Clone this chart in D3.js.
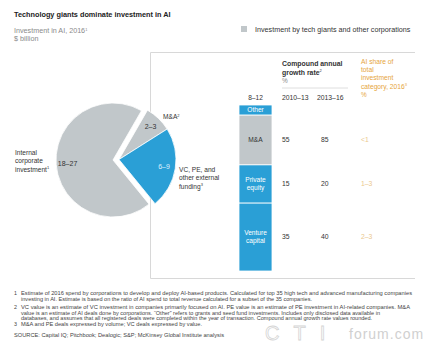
<!DOCTYPE html>
<html><head><meta charset="utf-8">
<script src="https://cdn.jsdelivr.net/npm/d3@7"></script>
<style>
body{margin:0;background:#fff;}
text{font-family:"Liberation Sans",Arial,sans-serif;}
</style></head>
<body>
<svg id="c" width="439" height="357"></svg>
<script>
// ---- data ----
const pieCategories = ["M&A", "VC, PE, and other external funding", "Internal corporate investment"];
const pieValues = [2.5, 7.5, 22.5];          // $ billion (mid of ranges)
const pieRangeLabels = ["2–3", "6–9", "18–27"];
const barCategories = ["Venture capital", "Private equity", "M&A", "Other"];
const barValues = [4.1, 2.3, 3.0, 0.6];      // $ billion (estimated)
const barTotalLabel = "8–12";
const cagrYears = ["2010–13", "2013–16"];
const cagr1013 = [35, 15, 55];               // VC, PE, M&A
const cagr1316 = [40, 20, 85];
const aiShare = ["2–3", "1–3", "<1"];

const blue = "#2a9fd6", gray = "#c1c7ca", orange = "#e6a53c", orangeLight = "#ebc88e";
const svg = d3.select("#c");

// ---- titles ----
svg.append("text").attr("x",14).attr("y",17).attr("font-size",7.3).attr("font-weight","bold").attr("fill","#222")
  .text("Technology giants dominate investment in AI");
const sub = svg.append("text").attr("x",14).attr("y",33).attr("font-size",7.2).attr("fill","#8a8a8a");
sub.append("tspan").text("Investment in AI, 2016");
sub.append("tspan").attr("dy",-2.5).attr("font-size",4).text("1");
svg.append("text").attr("x",14).attr("y",41).attr("font-size",7.2).attr("fill","#8a8a8a").text("$ billion");

// legend
svg.append("rect").attr("x",241).attr("y",26).attr("width",6).attr("height",6).attr("fill",gray);
svg.append("text").attr("x",255).attr("y",32).attr("font-size",7.2).attr("fill","#333")
  .text("Investment by tech giants and other corporations");

// box
svg.append("path").attr("d","M415,52.5H150.5V278.5H415").attr("fill","none").attr("stroke","#d8d8d8").attr("stroke-width",1);

// ---- pie ----
const cx = 113, cy = 160, R = 57;
const pie = d3.pie().sort(null).startAngle(30*Math.PI/180).endAngle(390*Math.PI/180);
const arcs = pie(pieValues);
const arc = d3.arc().innerRadius(0).outerRadius(R);
const labelArc = d3.arc().innerRadius(R*0.8).outerRadius(R*0.8);
const extMid = (arcs[0].startAngle + arcs[1].endAngle)/2;
const ex = 6;
const offs = arcs.map((a,i)=> i<2 ? [ex*Math.sin(extMid), -ex*Math.cos(extMid)] : [0,0]);
const pieColors = [gray, blue, gray];
const pg = svg.append("g").attr("transform",`translate(${cx},${cy})`);
pg.selectAll("path").data(arcs).join("path")
  .attr("d",arc)
  .attr("transform",(d,i)=>`translate(${offs[i][0]},${offs[i][1]})`)
  .attr("fill",(d,i)=>pieColors[i]).attr("stroke","#fff").attr("stroke-width",0.8);
const pieLabelColors = ["#333", "#dcefff", "#333"];
pg.selectAll("text.v").data(arcs).join("text").attr("class","v")
  .attr("x",(d,i)=>labelArc.centroid(d)[0]+offs[i][0])
  .attr("y",(d,i)=>labelArc.centroid(d)[1]+offs[i][1]+2.5)
  .attr("text-anchor","middle").attr("font-size",7).attr("fill",(d,i)=>pieLabelColors[i])
  .text((d,i)=>pieRangeLabels[i]);

// outer labels
const ma = svg.append("text").attr("x",163).attr("y",119).attr("font-size",6.6).attr("fill","#333");
ma.append("tspan").text("M&A"); ma.append("tspan").attr("dy",-2.5).attr("font-size",4).text("2");
const vcLines = ["VC, PE, and","other external","funding"];
vcLines.forEach((t,i)=>{
  const tx = svg.append("text").attr("x",179).attr("y",172+i*8.3).attr("font-size",6.6).attr("fill","#333");
  tx.append("tspan").text(t);
  if(i===2) tx.append("tspan").attr("dy",-2.5).attr("font-size",4).text("3");
});
[["Internal",0],["corporate",1],["investment",2]].forEach(([t,i])=>{
  const tx = svg.append("text").attr("x",15).attr("y",155+i*8.3).attr("font-size",6.6).attr("fill","#333");
  tx.append("tspan").text(t);
  if(i===2) tx.append("tspan").attr("dy",-2.5).attr("font-size",4).text("1");
});

// ---- stacked bar ----
const total = d3.sum(barValues);
const y = d3.scaleLinear().domain([0,total]).range([271,105]);
const x = d3.scaleBand().domain(["external"]).range([239,272]).padding(0);
let acc = 0;
const segs = barValues.map((v,i)=>{const s={cat:barCategories[i],y0:acc,y1:acc+v}; acc+=v; return s;});
const barColors = {"Venture capital":blue,"Private equity":blue,"M&A":gray,"Other":blue};
svg.selectAll("rect.seg").data(segs).join("rect").attr("class","seg")
  .attr("x",x("external")).attr("width",x.bandwidth())
  .attr("y",d=>y(d.y1)).attr("height",d=>y(d.y0)-y(d.y1))
  .attr("fill",d=>barColors[d.cat]).attr("stroke","#fff").attr("stroke-width",0.8);
const segLabelLines = {"Venture capital":["Venture","capital"],"Private equity":["Private","equity"],"M&A":["M&A"],"Other":["Other"]};
segs.forEach(s=>{
  const lines = segLabelLines[s.cat];
  const mid = (y(s.y0)+y(s.y1))/2;
  lines.forEach((t,j)=>{
    svg.append("text").attr("x",x("external")+x.bandwidth()/2)
      .attr("y",mid + (j-(lines.length-1)/2)*8 + 2.4)
      .attr("text-anchor","middle").attr("font-size",6.6)
      .attr("fill",s.cat==="M&A"?"#333":"#fff").text(t);
  });
});
svg.append("text").attr("x",x("external")+x.bandwidth()/2).attr("y",y(total)-5)
  .attr("text-anchor","middle").attr("font-size",6.6).attr("fill","#333").text(barTotalLabel);

// ---- table ----
svg.append("text").attr("x",282).attr("y",66).attr("font-size",6.9).attr("font-weight","bold").attr("fill","#333").text("Compound annual");
const h2 = svg.append("text").attr("x",282).attr("y",74.5).attr("font-size",6.9).attr("font-weight","bold").attr("fill","#333");
h2.append("tspan").text("growth rate"); h2.append("tspan").attr("dy",-2.5).attr("font-size",4).attr("font-weight","normal").text("2");
svg.append("text").attr("x",282).attr("y",83).attr("font-size",6.4).attr("fill","#8a8a8a").text("%");
svg.append("line").attr("x1",282).attr("x2",348).attr("y1",88).attr("y2",88).attr("stroke","#d5d5d5").attr("stroke-width",0.8);
const colX = [282, 317];
cagrYears.forEach((t,i)=>svg.append("text").attr("x",colX[i]).attr("y",100).attr("font-size",6.8).attr("fill","#333").text(t));
const rowY = segs.slice(0,3).map(s=>(y(s.y0)+y(s.y1))/2+2.4);
cagr1013.forEach((v,i)=>svg.append("text").attr("x",282).attr("y",rowY[i]).attr("font-size",6.8).attr("fill","#333").text(v));
cagr1316.forEach((v,i)=>svg.append("text").attr("x",321).attr("y",rowY[i]).attr("font-size",6.8).attr("fill","#333").text(v));
["AI share of","total","investment","category, 2016"].forEach((t,i)=>{
  const tx = svg.append("text").attr("x",361).attr("y",64+i*8.2).attr("font-size",6.7).attr("fill",orange);
  tx.append("tspan").text(t);
  if(i===3) tx.append("tspan").attr("dy",-2.5).attr("font-size",4).text("3");
});
svg.append("text").attr("x",361).attr("y",97).attr("font-size",6.4).attr("fill",orange).text("%");
aiShare.forEach((v,i)=>svg.append("text").attr("x",361).attr("y",rowY[i]).attr("font-size",6.8).attr("fill",orangeLight).text(v));

// ---- footnotes ----
const notes = [
  ["1","Estimate of 2016 spend by corporations to develop and deploy AI-based products. Calculated for top 35 high tech and advanced manufacturing companies", 391],
  ["","investing in AI. Estimate is based on the ratio of AI spend to total revenue calculated for a subset of the 35 companies.", 291],
  ["2","VC value is an estimate of VC investment in companies primarily focused on AI. PE value is an estimate of PE investment in AI-related companies. M&A", 389],
  ["","value is an estimate of AI deals done by corporations. \u201cOther\u201d refers to grants and seed fund investments. Includes only disclosed data available in", 359],
  ["","databases, and assumes that all registered deals were completed within the year of transaction. Compound annual growth rate values rounded.", 351],
  ["3","M&A and PE deals expressed by volume; VC deals expressed by value.", 181]
];
const ny = [295, 300.5, 309, 314.5, 320, 325.5];
notes.forEach((n,i)=>{
  if(n[0]) svg.append("text").attr("x",14).attr("y",ny[i]).attr("font-size",5.3).attr("fill","#444").text(n[0]);
  svg.append("text").attr("x",21).attr("y",ny[i]).attr("font-size",5.3).attr("fill","#444")
    .attr("textLength", n[2]).attr("lengthAdjust","spacingAndGlyphs").text(n[1]);
});
svg.append("text").attr("x",14).attr("y",337).attr("font-size",5.3).attr("fill","#444")
  .attr("textLength",210).attr("lengthAdjust","spacingAndGlyphs")
  .text("SOURCE:  Capital IQ; Pitchbook; Dealogic; S&P; McKinsey Global Institute analysis");

// watermark
svg.append("text").attr("x",265).attr("y",340).attr("font-size",20).attr("fill","none").attr("stroke","#d4d4d4").attr("stroke-width",0.8)
  .attr("letter-spacing",14).text("CTI");
svg.append("text").attr("x",349).attr("y",339).attr("font-size",14).attr("fill","#d0d0d0").attr("letter-spacing",1).text("forum.com");
</script>
</body></html>
